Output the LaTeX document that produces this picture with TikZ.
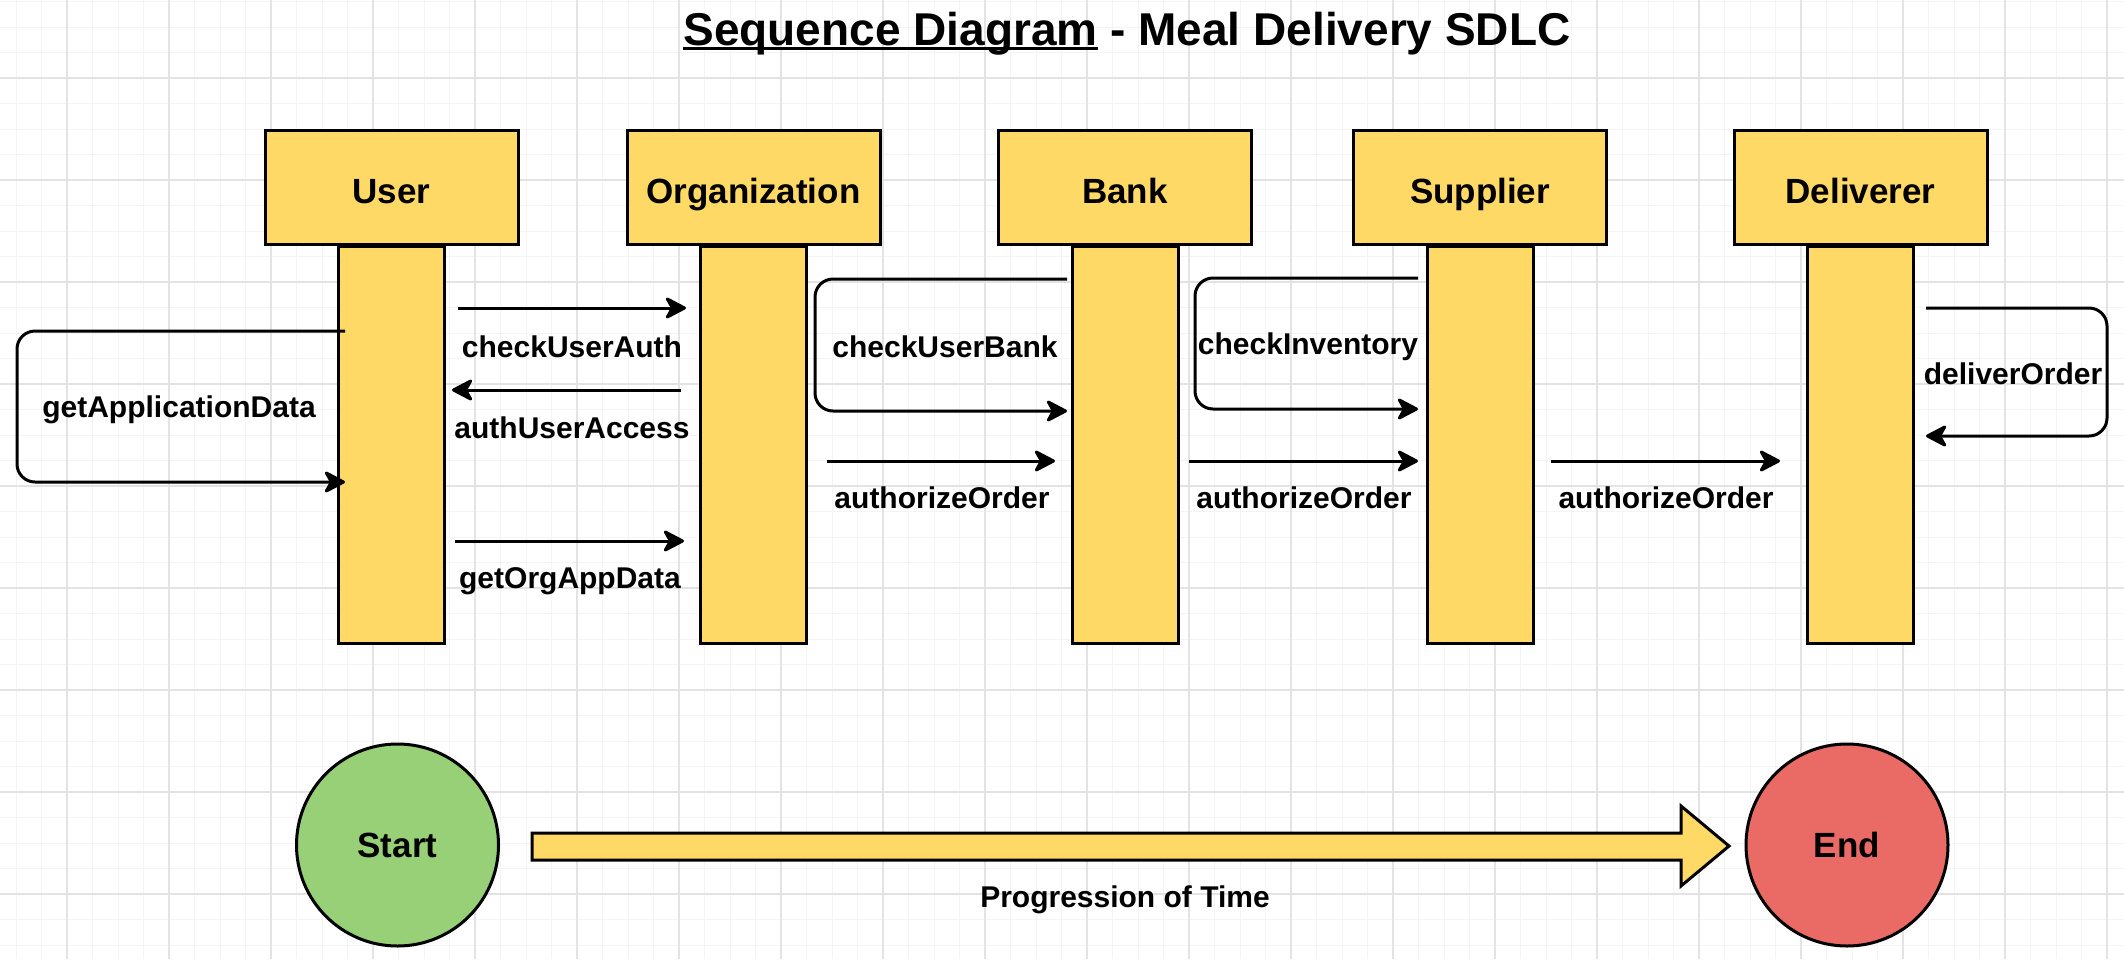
\documentclass[tikz,border=0pt]{standalone}
\usepackage{fontspec}
\setmainfont{Liberation Sans}
\usetikzlibrary{arrows.meta}
\definecolor{ylw}{HTML}{FFD966}
\definecolor{grn}{HTML}{97D077}
\definecolor{rd}{HTML}{EA6B66}
\definecolor{gmaj}{HTML}{E3E3E3}
\definecolor{gmin}{HTML}{F4F4F4}
\newcommand\ulx[1]{{\setbox0\hbox{#1}\rlap{\rule[-5pt]{\wd0}{3pt}}\box0}}
\begin{document}
\begin{tikzpicture}[x=1pt,y=-1pt,
  headbox/.style={draw, line width=3pt, fill=ylw, minimum width=253pt, minimum height=114pt,
     font=\fontsize{35}{42}\selectfont\bfseries, text height=32pt, text depth=0pt, inner sep=0pt},
  lifebar/.style={draw, line width=3pt, fill=ylw, minimum width=106pt, minimum height=397pt, anchor=north, inner sep=0pt},
  msglbl/.style={font=\fontsize{30}{36}\selectfont\bfseries, anchor=base, inner sep=0pt},
  msg/.style={line width=3pt, -{Stealth[length=24pt,width=25pt,inset=7pt,round]}},
  selfmsg/.style={msg, rounded corners=18pt},
  endpt/.style={circle, draw, line width=3pt, minimum size=202pt,
     font=\fontsize{35}{42}\selectfont\bfseries, text height=25pt, text depth=0pt, inner sep=0pt}
]
\useasboundingbox (0,0) rectangle (2124,959);
\fill[white] (0,0) rectangle (2124,959);
% grid
\foreach \i in {-2,...,80} {\draw[gmin, line width=1pt] ({67+25.5*\i},0) -- ({67+25.5*\i},959);}
\foreach \j in {-3,...,34} {\draw[gmin, line width=1pt] (0,{78+25.5*\j}) -- (2124,{78+25.5*\j});}
\foreach \i in {0,...,20} {\draw[gmaj, line width=1.2pt] ({67+102*\i},0) -- ({67+102*\i},959);}
\foreach \j in {0,...,8} {\draw[gmaj, line width=1.2pt] (0,{78+102*\j}) -- (2124,{78+102*\j});}

% title
\node[font=\fontsize{46}{55}\selectfont\bfseries, anchor=base, inner sep=0pt] (title) at (1127,45)
  {\ulx{Sequence Diagram} - Meal Delivery SDLC};

% lifelines
\node[lifebar] (userL) at (391.5,245) {};
\node[lifebar] (orgL) at (753,245) {};
\node[lifebar] (bankL) at (1125.5,245) {};
\node[lifebar] (supL) at (1480.5,245) {};
\node[lifebar] (delL) at (1860.5,245) {};

% headers
\node[headbox] (user) at (391.5,187) {User};
\node[headbox] (org) at (753.5,187) {Organization};
\node[headbox] (bank) at (1125,187) {Bank};
\node[headbox] (sup) at (1480,187) {Supplier};
\node[headbox] (del) at (1860.5,187) {Deliverer};

% message end points
\coordinate (a1) at (458,308); \coordinate (a2) at (686,308);
\coordinate (b1) at (681,390); \coordinate (b2) at (452,390);
\coordinate (c1) at (455,541); \coordinate (c2) at (684,541);
\coordinate (d1) at (345,331); \coordinate (d2) at (345,482);
\coordinate (e1) at (1067,279); \coordinate (e2) at (1067,411);
\coordinate (f1) at (1418,278); \coordinate (f2) at (1418,409);
\coordinate (g1) at (1926,308); \coordinate (g2) at (1926,436);
\coordinate (h1) at (827,461); \coordinate (h2) at (1055,461);
\coordinate (i1) at (1189,461); \coordinate (i2) at (1418,461);
\coordinate (k1) at (1551,461); \coordinate (k2) at (1780,461);

% messages
\draw[msg] (a1) -- (a2);
\draw[msg] (b1) -- (b2);
\draw[msg] (c1) -- (c2);
\draw[selfmsg] (d1) -- (17,331) -- (17,482) -- (d2);
\draw[selfmsg] (e1) -- (815,279) -- (815,411) -- (e2);
\draw[selfmsg] (f1) -- (1195,278) -- (1195,409) -- (f2);
\draw[selfmsg] (g1) -- (2107,308) -- (2107,436) -- (g2);
\draw[msg] (h1) -- (h2);
\draw[msg] (i1) -- (i2);
\draw[msg] (k1) -- (k2);

% message labels
\node[msglbl] (lcua) at (572,357) {checkUserAuth};
\node[msglbl] (luaa) at (572,438) {authUserAccess};
\node[msglbl] (logd) at (570,588) {getOrgAppData};
\node[msglbl] (lgad) at (179,417) {getApplicationData};
\node[msglbl] (lcub) at (945,357) {checkUserBank};
\node[msglbl] (lci) at (1308,354) {checkInventory};
\node[msglbl] (ldo) at (2013,384) {deliverOrder};
\node[msglbl] (lao1) at (942,508) {authorizeOrder};
\node[msglbl] (lao2) at (1304,508) {authorizeOrder};
\node[msglbl] (lao3) at (1666,508) {authorizeOrder};

% start / end
\node[endpt, fill=grn] (start) at (397.5,845) {Start};
\node[endpt, fill=rd] (end) at (1847,845) {End};
\coordinate (t1) at (532,846);
\coordinate (t2) at (1729,846);
\draw[line width=3pt, fill=ylw, line join=miter]
  (t1 |- 0,833) -- (1681,833) -- (1681,806) -- (t2) -- (1681,886) -- (1681,860) -- (t1 |- 0,860) -- cycle;
\node[msglbl] (ptime) at (1125,907) {Progression of Time};
\end{tikzpicture}
\end{document}
